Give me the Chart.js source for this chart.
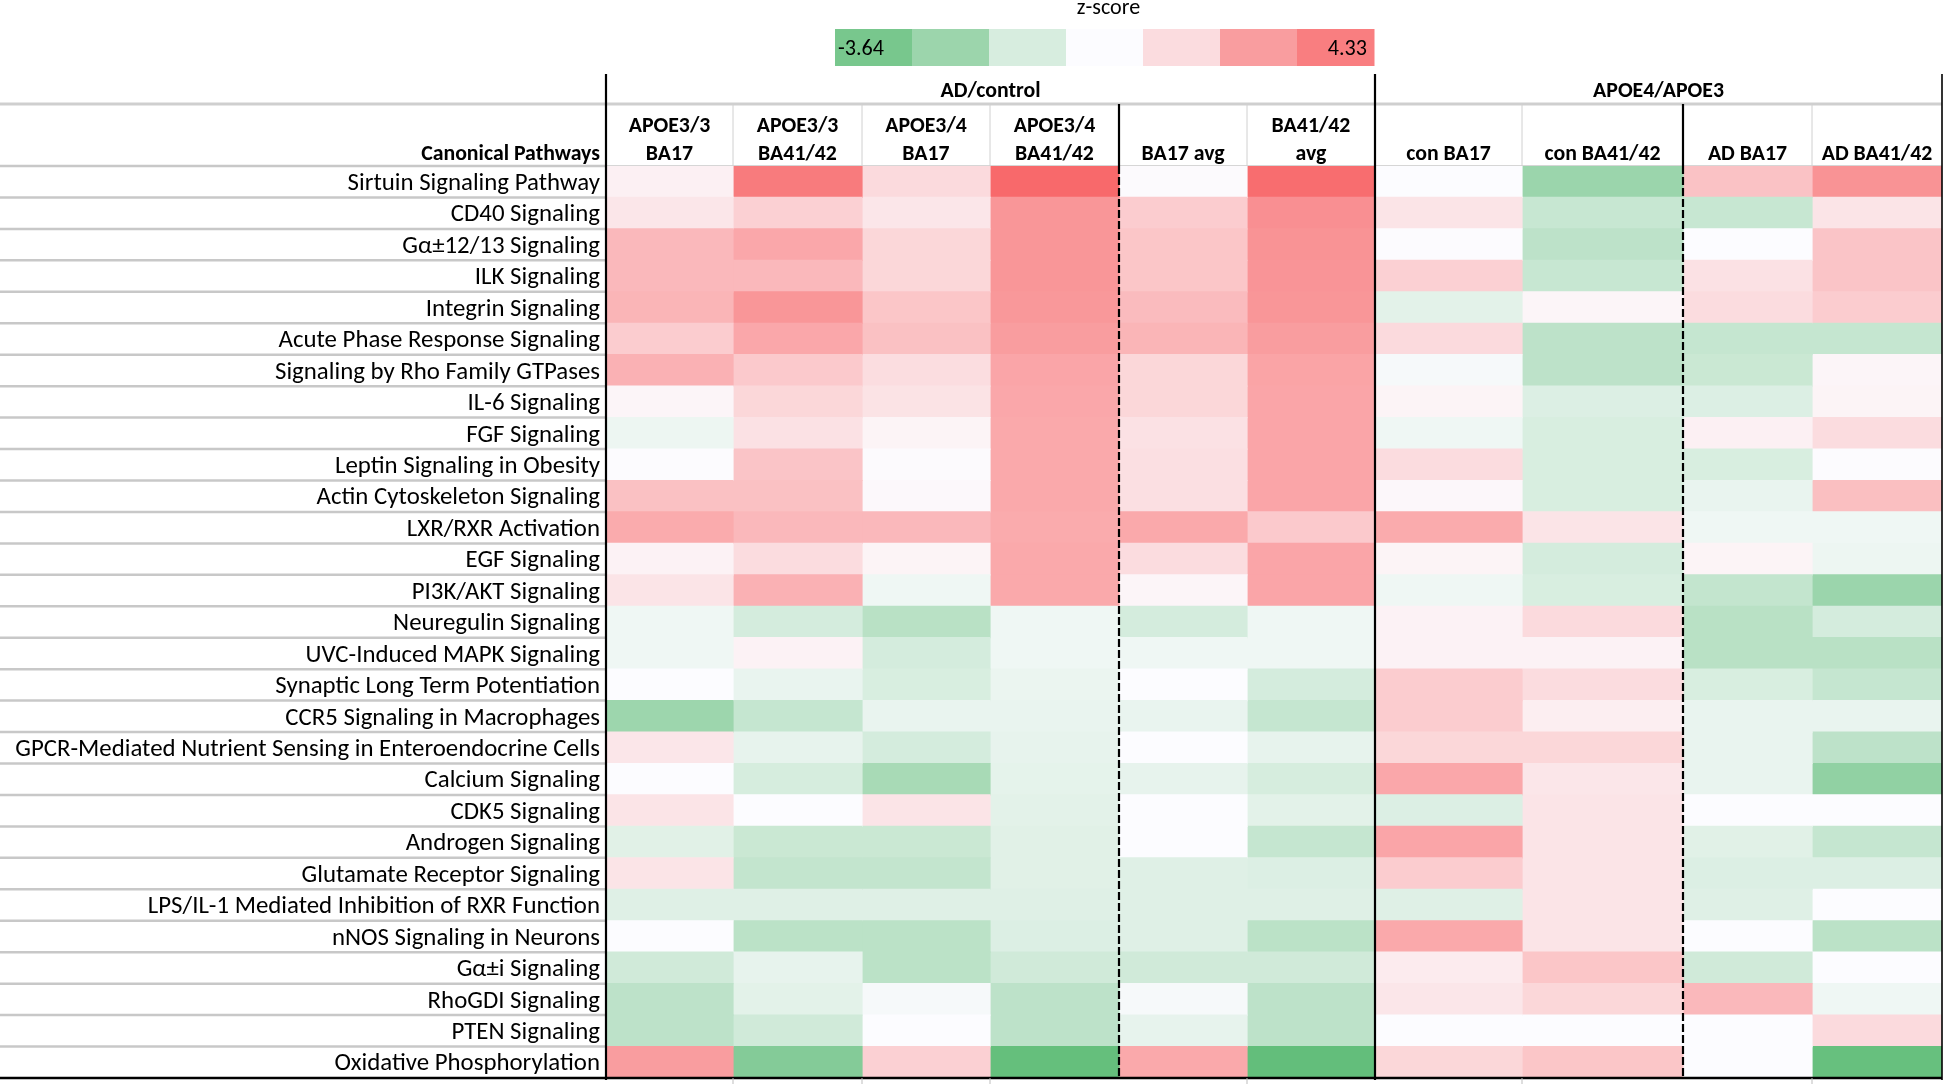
<!DOCTYPE html>
<html><head><meta charset="utf-8">
<script src="https://cdn.jsdelivr.net/npm/chart.js@4.4.1/dist/chart.umd.min.js"></script>
<style>html,body{margin:0;padding:0;background:#fff;overflow:hidden}#wrap{width:1946px;height:1086px;position:relative}</style>
</head><body><div id="wrap"><canvas id="c"></canvas></div>
<script>
// ---------------- DATA ----------------
const pathways = [
  "Sirtuin Signaling Pathway","CD40 Signaling","Gα±12/13 Signaling","ILK Signaling","Integrin Signaling",
  "Acute Phase Response Signaling","Signaling by Rho Family GTPases","IL-6 Signaling","FGF Signaling",
  "Leptin Signaling in Obesity","Actin Cytoskeleton Signaling","LXR/RXR Activation","EGF Signaling",
  "PI3K/AKT Signaling","Neuregulin Signaling","UVC-Induced MAPK Signaling","Synaptic Long Term Potentiation",
  "CCR5 Signaling in Macrophages","GPCR-Mediated Nutrient Sensing in Enteroendocrine Cells","Calcium Signaling",
  "CDK5 Signaling","Androgen Signaling","Glutamate Receptor Signaling","LPS/IL-1 Mediated Inhibition of RXR Function",
  "nNOS Signaling in Neurons","Gα±i Signaling","RhoGDI Signaling","PTEN Signaling","Oxidative Phosphorylation"
];
const columnHeaders = [["APOE3/3","BA17"],["APOE3/3","BA41/42"],["APOE3/4","BA17"],["APOE3/4","BA41/42"],
  ["BA17 avg"],["BA41/42","avg"],["con BA17"],["con BA41/42"],["AD BA17"],["AD BA41/42"]];
const groupHeaders = ["AD/control","APOE4/APOE3"];
const rowHeaderTitle = "Canonical Pathways";
const legendTitle = "z-score";
const zMin = -3.64, zMax = 4.33;
const legendTickLabels = ["-3.64","4.33"];
const legendSwatchValues = [-3.13,-2.29,-0.87,0,0.95,2.81,3.72];

const zAPOE33_BA17   = [0.35,0.65,2.0,2.0,2.1,1.4,2.2,0.2,-0.35,0.03,1.75,2.4,0.3,0.7,-0.3,-0.3,0,-2.25,0.65,0,0.7,-0.65,0.7,-0.7,0,-1.05,-1.5,-1.5,2.8];
const zAPOE33_BA4142 = [3.8,1.3,2.5,2.0,3.0,2.5,1.5,1.1,0.8,1.65,1.75,2.0,0.95,2.2,-0.95,0.3,-0.45,-1.3,-0.5,-0.9,0,-1.2,-1.35,-0.7,-1.55,-0.5,-0.6,-1.05,-2.85];
const zAPOE34_BA17   = [1.0,0.65,1.1,1.1,1.6,1.75,0.9,0.75,0.25,0.05,0.12,2.0,0.25,-0.3,-1.6,-0.95,-0.85,-0.45,-0.95,-2.0,0.7,-1.2,-1.35,-0.7,-1.55,-1.55,-0.15,0,1.3];
const zAPOE34_BA4142 = [4.33,3.0,3.0,3.0,2.95,2.8,2.55,2.5,2.45,2.45,2.45,2.4,2.45,2.45,-0.3,-0.3,-0.4,-0.45,-0.5,-0.55,-0.6,-0.65,-0.65,-0.7,-0.75,-1.05,-1.5,-1.5,-3.6];
const zBA17avg       = [0.05,1.4,1.6,1.6,1.9,2.1,1.1,1.1,0.8,0.85,0.85,2.45,0.95,0.2,-0.95,-0.3,0,-0.45,0,-0.5,0,0,-0.7,-0.7,-0.7,-1.05,-0.15,-0.5,2.45];
const zBA4142avg     = [4.2,3.2,3.1,3.05,3.0,2.8,2.6,2.55,2.55,2.55,2.55,1.5,2.55,2.55,-0.3,-0.3,-0.95,-1.3,-0.5,-0.9,-0.6,-1.3,-0.75,-0.7,-1.55,-1.05,-1.5,-1.5,-3.64];
const zConBA17       = [0,0.7,0.03,1.3,-0.6,1.0,-0.15,0.25,-0.3,0.95,0.15,2.4,0.25,-0.3,0.3,0.3,1.4,1.4,1.1,2.5,-0.75,2.55,1.4,-0.7,2.45,0.5,0.65,0,1.1];
const zConBA4142     = [-2.3,-1.25,-1.5,-1.25,0.2,-1.5,-1.5,-0.75,-0.85,-0.85,-0.85,0.7,-0.95,-0.85,1.0,0.3,0.95,0.4,1.1,0.65,0.7,0.7,0.7,0.7,0.7,1.6,1.1,0,1.6];
const zAD_BA17       = [1.7,-1.25,0,0.8,0.95,-1.3,-1.2,-0.75,0.35,-0.85,-0.45,-0.3,0.25,-1.35,-1.6,-1.6,-0.85,-0.45,-0.45,-0.45,0,-0.65,-0.75,-0.7,0,-1.05,2.0,0,0];
const zAD_BA4142     = [3.1,0.7,1.65,1.65,1.4,-1.3,0.2,0.25,0.95,0.02,1.8,-0.3,-0.35,-2.3,-0.95,-1.6,-1.3,-0.45,-1.5,-2.55,0,-1.3,-0.75,0,-1.55,0,-0.3,1.0,-3.55];
const columnValues = [zAPOE33_BA17,zAPOE33_BA4142,zAPOE34_BA17,zAPOE34_BA4142,zBA17avg,zBA4142avg,zConBA17,zConBA4142,zAD_BA17,zAD_BA4142];

// ---------------- LAYOUT ----------------
const W = 1946, H = 1086;
const colEdges = [0,127,256,384,513,641,769,916,1077,1206,1336]; // px offsets from plot left
const dashedAfter = [3,7];   // dashed separators after these columns
const solidAfter = [5];      // solid group separator
const plotLeft = 606, plotTop = 166, plotBottom = 1078, plotRight = 1942;

// ---------------- COLORS ----------------
const GREEN=[99,190,123], WHITE=[252,252,255], RED=[248,105,107];
function mix(a,b,t){return `rgb(${a.map((v,i)=>Math.round(v+(b[i]-v)*t)).join(',')})`;}
function zColor(v){ if(v<0) return mix(WHITE,GREEN,Math.min(1,v/zMin)); return mix(WHITE,RED,Math.min(1,v/zMax)); }

// ---------------- FONTS ----------------
const mctx = document.createElement('canvas').getContext('2d');
function available(f){
  const s='abcdefghijklmnopqrstuvwxyzABCDEFGHIJKLMNOPQRSTUVWXYZ0123456789';
  for(const fb of ['monospace','serif']){
    mctx.font=`40px ${fb}`; const a=mctx.measureText(s).width;
    mctx.font=`40px "${f}", ${fb}`; const b=mctx.measureText(s).width;
    if(Math.abs(a-b)>0.5) return true;
  }
  return false;
}
const FAMILY = ['Carlito','Liberation Sans Narrow','DejaVu Sans Condensed','Roboto Condensed','Open Sans Condensed','Lato','Noto Sans'].find(available) || 'sans-serif';
const FF = `"${FAMILY}", "Lato", sans-serif`;
function fit(text, weight, target){ mctx.font=`${weight} 100px ${FF}`; return 100*target/mctx.measureText(text).width; }
const labelSize = Math.min(25, fit("GPCR-Mediated Nutrient Sensing in Enteroendocrine Cells", 'normal', 585));
const headSize = Math.min(24, fit(rowHeaderTitle, 'bold', 179));
const smallSize = Math.min(23, fit("-3.64", 'normal', 46));

// ---------------- CHART ----------------
const canvas = document.getElementById('c');
canvas.width = W; canvas.height = H; canvas.style.width=W+'px'; canvas.style.height=H+'px';

const datasets = columnValues.map((vals,j)=>({
  label: columnHeaders[j].join(' '),
  data: vals.map(()=>[colEdges[j], colEdges[j+1]]),
  backgroundColor: vals.map(zColor),
  borderWidth: 0, borderSkipped: false,
  barPercentage: 1, categoryPercentage: 1, grouped: false, inflateAmount: 0.6
}));

function line(ctx,x1,y1,x2,y2){ctx.beginPath();ctx.moveTo(x1,y1);ctx.lineTo(x2,y2);ctx.stroke();}

const overlay = {
  id:'overlay',
  beforeDraw(chart){ const c=chart.ctx; c.save(); c.fillStyle='#fff'; c.fillRect(0,0,W,H); c.restore(); },
  afterDraw(chart){
    const ctx=chart.ctx, a=chart.chartArea, xs=chart.scales.x, ys=chart.scales.y;
    const X=v=>xs.getPixelForValue(v);
    const rowH=(a.bottom-a.top)/pathways.length;
    ctx.save();
    // legend title
    ctx.fillStyle='#000'; ctx.textBaseline='middle'; ctx.textAlign='center';
    ctx.font=`normal ${smallSize}px ${FF}`;
    const lgL=835, lgR=1374, lgT=29, lgB=66;
    ctx.fillText(legendTitle,(lgL+lgR)/2+4,8);
    const sw=(lgR-lgL)/legendSwatchValues.length;
    legendSwatchValues.forEach((v,i)=>{ctx.fillStyle=zColor(v);ctx.fillRect(lgL+i*sw,lgT,sw+0.5,lgB-lgT);});
    ctx.fillStyle='#000'; ctx.textAlign='left'; ctx.fillText(legendTickLabels[0],lgL+3,49);
    ctx.textAlign='right'; ctx.fillText(legendTickLabels[1],lgR-7,49);

    // gray row separators in label column
    ctx.strokeStyle='#C8C8C8'; ctx.lineWidth=2.5;
    for(let i=0;i<pathways.length;i++){
      const yy = ys.getPixelForValue(i)-rowH/2;
      line(ctx,0,yy,a.left,yy);
    }
    // header top gray line
    ctx.lineWidth=3; ctx.strokeStyle='#CFCFCF'; line(ctx,0,104,X(colEdges[10]),104);
    ctx.lineWidth=1; ctx.strokeStyle='#D6D6D6'; line(ctx,a.left,a.top-0.5,X(colEdges[10]),a.top-0.5);
    // header thin separators
    ctx.lineWidth=1; ctx.strokeStyle='#D0D0D0';
    [1,2,3,5,7,9].forEach(k=>line(ctx,X(colEdges[k]),104,X(colEdges[k]),a.top));
    // dashed separators in data area
    ctx.strokeStyle='#000'; ctx.lineWidth=2.2; ctx.setLineDash([8,3]);
    dashedAfter.forEach(k=>{const xx=X(colEdges[k+1]); line(ctx,xx,a.top,xx,a.bottom);});
    ctx.setLineDash([]);
    dashedAfter.forEach(k=>{const xx=X(colEdges[k+1]); line(ctx,xx,104,xx,a.top);});
    // solid group separators
    ctx.lineWidth=2.2;
    line(ctx,a.left,74,a.left,a.bottom+2);
    solidAfter.forEach(k=>{const xx=X(colEdges[k+1]); line(ctx,xx,74,xx,a.bottom+2);});
    ctx.lineWidth=1.6; line(ctx,X(colEdges[10]),74,X(colEdges[10]),a.bottom+2);
    // bottom line
    ctx.lineWidth=2.6; line(ctx,0,a.bottom,X(colEdges[10]),a.bottom);
    // bottom ticks
    ctx.lineWidth=1; ctx.strokeStyle='#BDBDBD';
    [1,2,3,5,7,9].forEach(k=>line(ctx,X(colEdges[k]),a.bottom,X(colEdges[k]),a.bottom+6));

    // headers
    ctx.fillStyle='#000'; ctx.textBaseline='middle'; ctx.textAlign='center';
    ctx.font=`bold ${headSize}px ${FF}`;
    ctx.fillText(groupHeaders[0],(X(colEdges[0])+X(colEdges[6]))/2,92);
    ctx.fillText(groupHeaders[1],(X(colEdges[6])+X(colEdges[10]))/2,92);
    columnHeaders.forEach((lines,j)=>{
      const cx=(X(colEdges[j])+X(colEdges[j+1]))/2;
      if(lines.length===2){ctx.fillText(lines[0],cx,127);ctx.fillText(lines[1],cx,155);}
      else ctx.fillText(lines[0],cx,155);
    });
    ctx.textAlign='right'; ctx.fillText(rowHeaderTitle,a.left-6,155);
    ctx.restore();
  }
};

new Chart(canvas,{
  type:'bar',
  data:{labels:pathways,datasets},
  options:{
    indexAxis:'y', responsive:false, animation:false, devicePixelRatio:1,
    layout:{padding:{left:0,top:plotTop,right:W-plotRight,bottom:H-plotBottom}},
    plugins:{legend:{display:false},tooltip:{enabled:false},title:{display:false}},
    scales:{
      x:{type:'linear',display:false,min:colEdges[0],max:colEdges[colEdges.length-1]},
      y:{type:'category',offset:true,
         grid:{display:false,drawTicks:false},border:{display:false},
         ticks:{autoSkip:false,color:'#000',padding:6,labelOffset:2,font:{family:FF,size:labelSize}},
         afterFit(s){s.width=plotLeft;s.paddingTop=0;s.paddingBottom=0;}}
    }
  },
  plugins:[overlay]
});
</script></body></html>
